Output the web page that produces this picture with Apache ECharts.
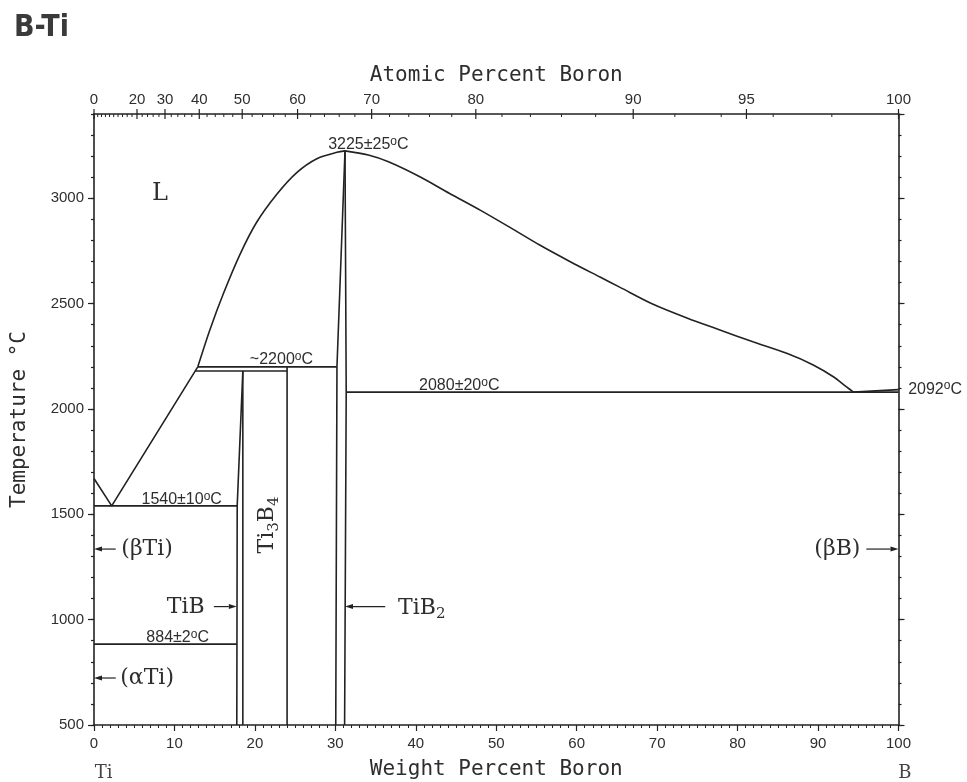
<!DOCTYPE html>
<html>
<head>
<meta charset="utf-8">
<title>B-Ti</title>
<script src="https://cdn.jsdelivr.net/npm/echarts@6/dist/echarts.min.js"></script>
<style>
html, body { margin: 0; padding: 0; background: #fff; }
#chart { width: 967px; height: 782px; }
</style>
</head>
<body>
<div id="chart"></div>
<script>
// top axis: atomic percent boron (labelled ticks)
const atomicLabels = [0, 20, 30, 40, 50, 60, 70, 80, 90, 95, 100]
const atomicMinorStep = 2

// phase boundaries, [weight % B, temperature °C]
const tiLiquidus = [[0, 1670], [2.2, 1540], [12.9, 2200]]
const tiB2LiquidusLeft = [[12.9, 2200], [14.4, 2375], [16.1, 2549], [18.15, 2734], [20.2, 2885], [22.7, 3018], [25.2, 3122], [27.7, 3188], [30.2, 3218], [31.2, 3225]]
const tiB2LiquidusRight = [[31.2, 3225], [34.1, 3205], [36.6, 3173], [40.5, 3102], [44.2, 3023], [48.0, 2944], [51.7, 2862], [55.4, 2778], [59.2, 2699], [62.9, 2626], [65.4, 2577], [69.5, 2497], [73.7, 2432], [77.8, 2375], [81.9, 2319], [86.1, 2264], [89.4, 2209], [91.9, 2153], [93.5, 2106], [94.4, 2080]]
const bLiquidus = [[94.4, 2080], [100, 2092]]
const eutectic2080 = [[31.35, 2080], [100, 2080]]
const peritectic2200 = [[12.9, 2200], [30.2, 2200]]
const peritectic2180 = [[12.6, 2180], [24.0, 2180]]
const eutectic1540 = [[0, 1540], [17.8, 1540]]
const eutectoid884 = [[0, 884], [17.75, 884]]
const tiBLeft = [[17.75, 500], [17.8, 1540], [18.5, 2180]]
const tiBRight = [[18.5, 500], [18.5, 2180]]
const ti3B4 = [[24.0, 500], [24.0, 2200]]
const tiB2Left = [[30.05, 500], [30.2, 2200], [31.2, 3225]]
const tiB2Right = [[31.2, 3225], [31.35, 2080], [31.15, 500]]

const T_MIN = 500
const T_MAX = 3400
const M_B = 10.81
const M_TI = 47.867
const ink = '#222'
const textInk = '#2e2e2e'

// atomic % -> weight % boron
const atToWt = (a) => (100 * a * M_B) / (a * M_B + (100 - a) * M_TI)

const atomicMinor = []
for (let a = atomicMinorStep; a < 100; a += atomicMinorStep) {
  if (!atomicLabels.includes(a)) atomicMinor.push(a)
}

// labels inside the diagram
const notes = [
  { text: '{p|L}', x: 8.2, y: 3020, font: 'big' },
  { text: '{a|3225±25}{s|o}{a|C}', x: 34.1, y: 3253, font: 'temp' },
  { text: '{a|~2200}{s|o}{a|C}', x: 23.3, y: 2232, font: 'temp' },
  { text: '{a|2080±20}{s|o}{a|C}', x: 45.4, y: 2109, font: 'temp' },
  { text: '{a|2092}{s|o}{a|C}', x: 101.2, y: 2092, font: 'temp', align: 'left' },
  { text: '{a|1540±10}{s|o}{a|C}', x: 10.9, y: 1568, font: 'temp' },
  { text: '{a|884±2}{s|o}{a|C}', x: 10.4, y: 913, font: 'temp' },
  { text: '{p|(βTi)}', x: 6.6, y: 1335, font: 'serif' },
  { text: '{p|(αTi)}', x: 6.6, y: 723, font: 'serif' },
  { text: '{p|TiB}', x: 11.4, y: 1060, font: 'serif' },
  { text: '{p|Ti}{b|3}{p|B}{b|4}', x: 21.6, y: 1449, font: 'serif', rotate: true },
  { text: '{p|TiB}{b|2}', x: 37.8, y: 1055, font: 'serif', align: 'left' },
  { text: '{p|(βB)}', x: 92.4, y: 1335, font: 'serif' },
  { text: '{p|Ti}', x: 1.2, y: 272, font: 'end' },
  { text: '{p|B}', x: 100.8, y: 272, font: 'end' }
]

const arrows = [
  { from: [2.7, 1335], to: [0, 1335] },
  { from: [2.7, 723], to: [0, 723] },
  { from: [14.9, 1062], to: [17.75, 1062] },
  { from: [36.2, 1062], to: [31.2, 1062] },
  { from: [96.0, 1335], to: [100, 1335] }
]

const richFonts = {
  temp: {
    a: { fontFamily: 'Liberation Sans', fontSize: 16, lineHeight: 19, fill: textInk },
    s: { fontFamily: 'Liberation Sans', fontSize: 12, lineHeight: 12, verticalAlign: 'top', fill: textInk }
  },
  serif: {
    p: { fontFamily: 'DejaVu Serif', fontSize: 22, lineHeight: 27, fill: textInk },
    b: { fontFamily: 'DejaVu Serif', fontSize: 15, lineHeight: 15, verticalAlign: 'bottom', fill: textInk }
  },
  big: {
    p: { fontFamily: 'DejaVu Serif', fontSize: 24, lineHeight: 28, fill: textInk }
  },
  end: {
    p: { fontFamily: 'DejaVu Serif', fontSize: 18, lineHeight: 22, fill: '#444' }
  }
}

const chart = echarts.init(document.getElementById('chart'))

function boundary(name, data, smooth) {
  return {
    type: 'line',
    name,
    data,
    smooth: smooth || false,
    symbol: 'none',
    silent: true,
    animation: false,
    lineStyle: { color: ink, width: 1.6 },
    z: 3
  }
}

const axisFont = { fontFamily: 'Liberation Sans', fontSize: 15, color: textInk }
const nameFont = { fontFamily: 'DejaVu Sans Mono', fontSize: 21, color: textInk }
const frameLine = { show: true, onZero: false, lineStyle: { color: ink, width: 1.6 } }

function tempAxis(position, interval, tickLen, showLine, showLabel) {
  return {
    type: 'value',
    position,
    min: T_MIN,
    max: T_MAX,
    interval,
    axisLine: showLine ? frameLine : { show: false, onZero: false },
    axisTick: { show: true, length: tickLen, lineStyle: { color: ink, width: 1.2 } },
    axisLabel: showLabel ? { ...axisFont, margin: 10, showMaxLabel: false, formatter: (v) => String(v) } : { show: false },
    splitLine: { show: false }
  }
}

const leftAxis = tempAxis('left', 500, 6, true, true)
leftAxis.name = 'Temperature °C'
leftAxis.nameLocation = 'middle'
leftAxis.nameGap = 64
leftAxis.nameTextStyle = nameFont

const options = {
  animation: false,
  backgroundColor: '#fff',
  title: {
    text: 'B-Ti',
    left: 9,
    top: 8,
    textStyle: { fontFamily: 'Liberation Sans Narrow, DejaVu Sans Condensed, sans-serif', fontWeight: 'bold', fontSize: 30, color: '#3a3a3a' }
  },
  grid: { left: 94, right: 68.5, top: 114, bottom: 57, outerBoundsMode: 'none', containLabel: false },
  xAxis: [
    {
      type: 'value',
      position: 'bottom',
      min: 0,
      max: 100,
      interval: 10,
      axisLine: frameLine,
      axisTick: { show: true, length: 6, lineStyle: { color: ink, width: 1.2 } },
      minorTick: { show: true, splitNumber: 10, length: 3, lineStyle: { color: ink, width: 1 } },
      axisLabel: { ...axisFont, margin: 11 },
      splitLine: { show: false },
      name: 'Weight Percent Boron',
      nameLocation: 'middle',
      nameGap: 34,
      nameTextStyle: nameFont
    },
    {
      type: 'value',
      position: 'top',
      min: 0,
      max: 100,
      axisLine: frameLine,
      axisTick: { show: false },
      axisLabel: { show: false },
      splitLine: { show: false },
      name: 'Atomic Percent Boron',
      nameLocation: 'middle',
      nameGap: 28,
      nameTextStyle: nameFont
    }
  ],
  yAxis: [
    leftAxis,
    tempAxis('left', 100, 3, false, false),
    tempAxis('right', 500, 6, true, false),
    tempAxis('right', 100, 3, false, false)
  ],
  series: [
    boundary('Ti liquidus', tiLiquidus),
    boundary('TiB2 liquidus (Ti side)', tiB2LiquidusLeft, 0.3),
    boundary('TiB2 liquidus (B side)', tiB2LiquidusRight, 0.3),
    boundary('B liquidus', bLiquidus),
    boundary('2080 eutectic', eutectic2080),
    boundary('2200 peritectic', peritectic2200),
    boundary('2180 peritectic', peritectic2180),
    boundary('1540 eutectic', eutectic1540),
    boundary('884 eutectoid', eutectoid884),
    boundary('TiB left', tiBLeft),
    boundary('TiB right', tiBRight),
    boundary('Ti3B4', ti3B4),
    boundary('TiB2 left', tiB2Left),
    boundary('TiB2 right', tiB2Right),
    // top axis ticks in atomic percent
    {
      type: 'custom',
      name: 'atomic labels',
      silent: true,
      clip: false,
      data: atomicLabels.map((a) => [atToWt(a), T_MAX, a]),
      renderItem: (params, api) => {
        const p = api.coord([api.value(0), T_MAX])
        return {
          type: 'group',
          children: [
            { type: 'line', shape: { x1: p[0], y1: p[1] - 5, x2: p[0], y2: p[1] + 5 }, style: { stroke: ink, lineWidth: 1.2 } },
            { type: 'text', x: p[0], y: p[1] - 7, style: { text: String(api.value(2)), align: 'center', verticalAlign: 'bottom', fontFamily: 'Liberation Sans', fontSize: 15, fill: textInk } }
          ]
        }
      }
    },
    {
      type: 'custom',
      name: 'atomic minor',
      silent: true,
      clip: false,
      data: atomicMinor.map((a) => [atToWt(a), T_MAX]),
      renderItem: (params, api) => {
        const p = api.coord([api.value(0), T_MAX])
        return { type: 'line', shape: { x1: p[0], y1: p[1], x2: p[0], y2: p[1] + 3 }, style: { stroke: ink, lineWidth: 1 } }
      }
    },
    // arrows to phase labels
    {
      type: 'custom',
      name: 'arrows',
      silent: true,
      clip: false,
      data: arrows.map((a) => [a.to[0], a.to[1]]),
      renderItem: (params, api) => {
        const a = arrows[params.dataIndex]
        const p0 = api.coord(a.from)
        const p1 = api.coord(a.to)
        const dir = p1[0] > p0[0] ? 1 : -1
        const headX = p1[0] - dir * 8
        return {
          type: 'group',
          children: [
            { type: 'line', shape: { x1: p0[0], y1: p0[1], x2: headX, y2: p1[1] }, style: { stroke: ink, lineWidth: 1.2 } },
            { type: 'polygon', shape: { points: [[p1[0], p1[1]], [headX, p1[1] - 2.5], [headX, p1[1] + 2.5]] }, style: { fill: ink } }
          ]
        }
      }
    },
    // text labels
    {
      type: 'custom',
      name: 'notes',
      silent: true,
      clip: false,
      data: notes.map((n) => [n.x, n.y]),
      renderItem: (params, api) => {
        const n = notes[params.dataIndex]
        const p = api.coord([n.x, n.y])
        return {
          type: 'text',
          x: p[0],
          y: p[1],
          rotation: n.rotate ? Math.PI / 2 : 0,
          style: {
            text: n.text,
            rich: richFonts[n.font],
            align: n.align || 'center',
            verticalAlign: 'middle'
          }
        }
      }
    }
  ]
}

options && chart.setOption(options, true)
</script>
</body>
</html>
